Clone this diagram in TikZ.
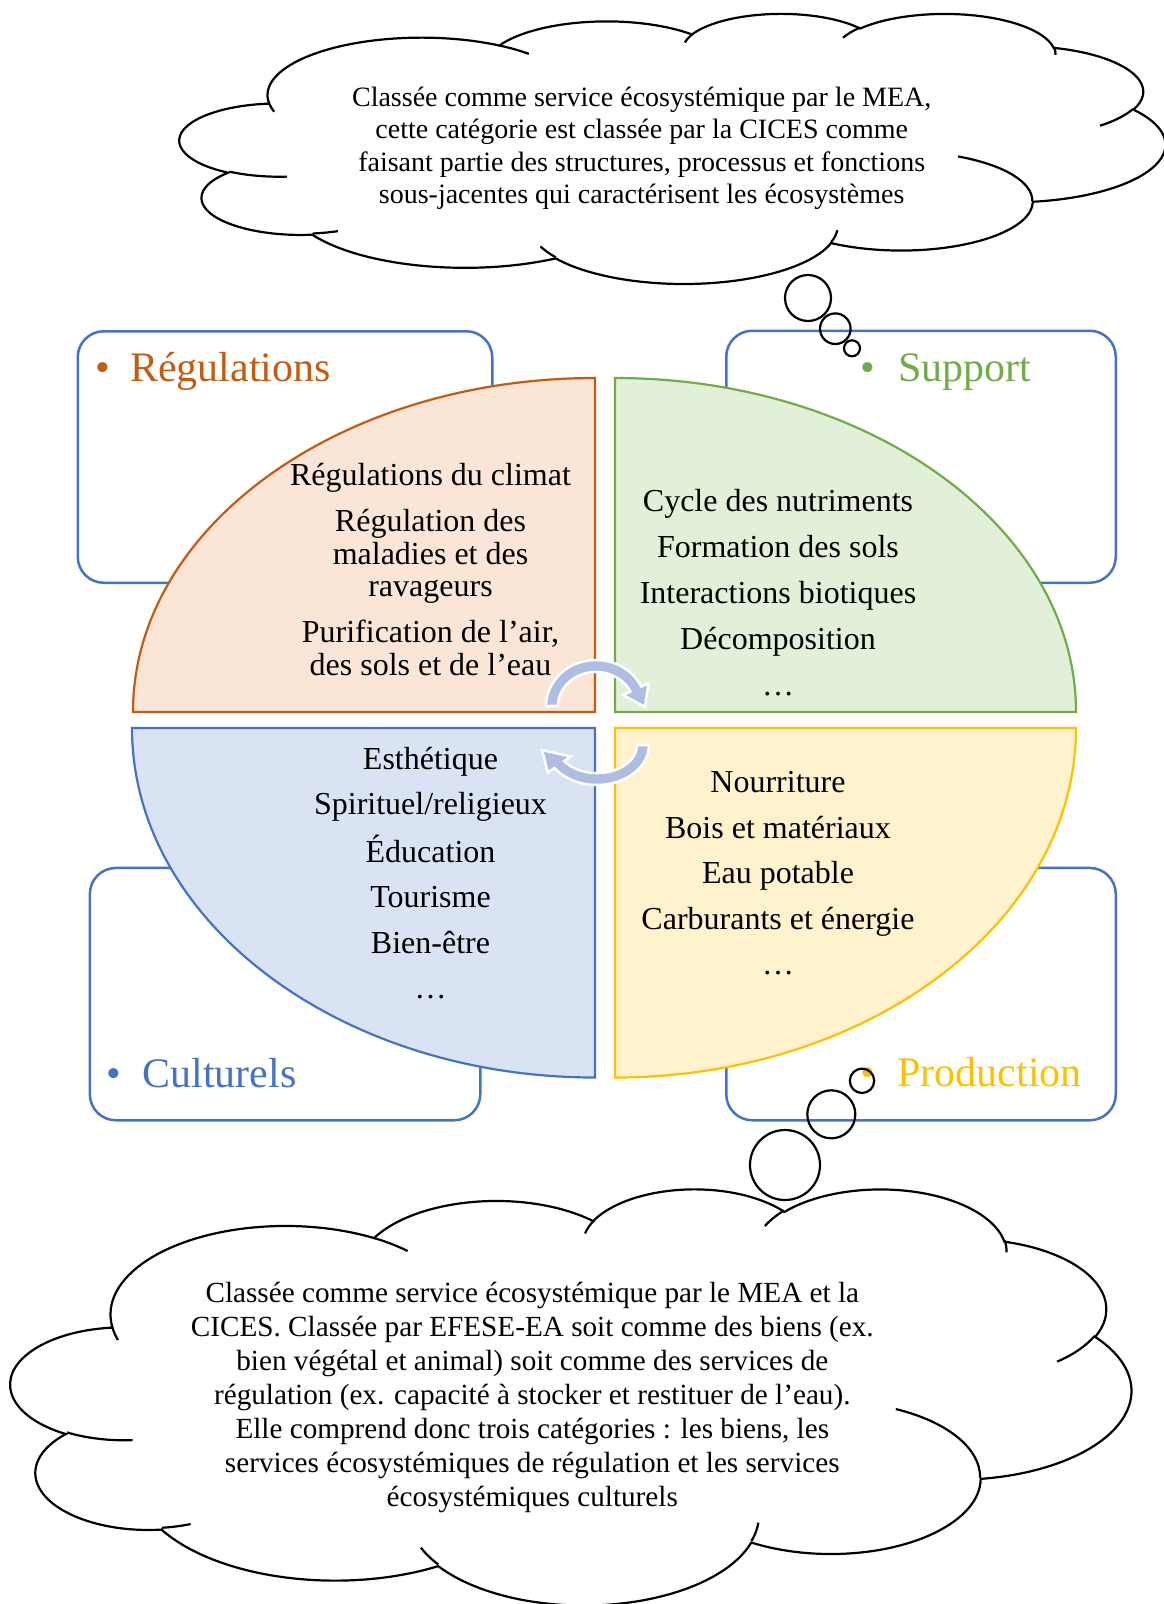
\documentclass[tikz,border=0pt]{standalone}
\usepackage{fontspec}
\setmainfont{Liberation Serif}
\usetikzlibrary{calc}

\definecolor{frameblue}{HTML}{4472C4}
\definecolor{regline}{HTML}{C55A11}
\definecolor{regfill}{HTML}{FBE5D6}
\definecolor{supline}{HTML}{70AD47}
\definecolor{supfill}{HTML}{E2F0D9}
\definecolor{culfill}{HTML}{DAE3F3}
\definecolor{proline}{HTML}{FFC000}
\definecolor{profill}{HTML}{FFF2CC}
\definecolor{cyclefill}{HTML}{AFBDE2}

\begin{document}
\begin{tikzpicture}[
        x=1pt, y=-1pt,
        varc/.style n args={4}{x radius=#1, y radius=#2,
            start angle={atan2(#1*sin(#3),#2*cos(#3))},
            delta angle={atan2(#1*sin(#3+#4),#2*cos(#3+#4))-atan2(#1*sin(#3),#2*cos(#3))+360*round((#4-atan2(#1*sin(#3+#4),#2*cos(#3+#4))+atan2(#1*sin(#3),#2*cos(#3)))/360)}},
        cloudshape/.pic={
            % outline
            \draw[line width=2.2pt, fill=white] (39.00,143.70)
                arc[varc={67.53}{91.90}{-190.487}{123.781}]
                arc[varc={53.33}{72.67}{-144.102}{89.945}]
                arc[varc={43.65}{59.45}{-145.808}{99.723}]
                arc[varc={48.57}{65.95}{-130.986}{117.242}]
                arc[varc={53.33}{72.73}{-78.709}{109.027}]
                arc[varc={67.75}{92.20}{-46.267}{130.269}]
                arc[varc={57.85}{78.67}{0.625}{114.033}]
                arc[varc={67.52}{92.15}{22.452}{115.173}]
                arc[varc={77.20}{105.43}{66.243}{75.711}]
                arc[varc={43.60}{59.18}{-274.942}{146.736}]
                arc[varc={43.45}{59.45}{-246.829}{152.519}]
                -- cycle;
            % folds
            \draw[line width=2.2pt]
                (46.93,261.77) arc[varc={43.45}{59.45}{86.742}{26.430}]
                (69.28,348.99) arc[varc={43.60}{59.18}{73.610}{11.447}]
                (164.78,390.90) arc[varc={67.52}{92.15}{137.624}{14.081}]
                (288.27,347.51) arc[varc={67.52}{92.15}{6.453}{15.998}]
                (341.29,229.54) arc[varc={57.85}{78.67}{-70.292}{70.917}]
                (417.98,153.54) arc[varc={53.33}{72.73}{30.318}{27.752}]
                (383.24,54.26) arc[varc={48.57}{65.95}{-13.744}{14.859}]
                (290.78,39.52) arc[varc={48.57}{65.95}{-149.181}{18.195}]
                (221.41,47.20) arc[varc={43.65}{59.45}{-163.494}{17.686}]
                (140.00,51.92) arc[varc={67.53}{91.90}{-66.707}{12.319}]
                (41.27,157.89) arc[varc={67.53}{91.90}{157.654}{11.858}];
        },
    ]
    \useasboundingbox (0,0) rectangle (1163,1604);
    % boxes behind the quarters
    \tikzstyle{catbox}=[draw=frameblue, line width=2.5pt, rounded corners=26pt, anchor=north west]
    \tikzstyle{cattitle}=[inner sep=0, anchor=base west, font=\fontsize{42}{46}\selectfont]
    \node[catbox, minimum width=414.5pt, minimum height=251.5pt] (RegBox) at (76.5,330) {};
    \node[catbox, minimum width=389.5pt, minimum height=252pt] (SupBox) at (725,329.5) {};
    \node[catbox, minimum width=390.4pt, minimum height=252.3pt] (CulBox) at (88.6,866.7) {};
    \node[catbox, minimum width=389.5pt, minimum height=252.3pt] (ProBox) at (725,866.7) {};
    % quarters
    \tikzstyle{quarter}=[line width=2.2pt]
    \coordinate (RegCorner) at (595,712);
    \coordinate (SupCorner) at (615,712);
    \coordinate (CulCorner) at (595,728);
    \coordinate (ProCorner) at (615,728);
    \draw[quarter, draw=regline, fill=regfill] (RegCorner) -- ++(0,-334)
        arc[start angle=270, end angle=180, x radius=462, y radius=334] -- cycle;
    \draw[quarter, draw=supline, fill=supfill] (SupCorner) -- ++(0,-334)
        arc[start angle=270, end angle=360, x radius=461, y radius=334] -- cycle;
    \draw[quarter, draw=frameblue, fill=culfill] (CulCorner) -- ++(0,349.5)
        arc[start angle=90, end angle=180, x radius=463, y radius=349.5] -- cycle;
    \draw[quarter, draw=proline, fill=profill] (ProCorner) -- ++(0,349.5)
        arc[start angle=90, end angle=0, x radius=461, y radius=349.5] -- cycle;
    % services in each quarter
    \tikzstyle{items}=[inner sep=0, align=center, font=\fontsize{32}{32.7}\selectfont]
    \node[items] (RegText) at (430.5,569.5) {Régulations du climat\\[13.3pt]
        Régulation des\\ maladies et des\\ ravageurs\\[13.3pt]
        Purification de l’air,\\ des sols et de l’eau};
    \node[items] (SupText) at (778,592.7) {Cycle des nutriments\\[13.3pt]
        Formation des sols\\[13.3pt] Interactions biotiques\\[13.3pt]
        Décomposition\\[13.3pt] …};
    \node[items] (CulText) at (430.5,873) {Esthétique\\[12.5pt] Spirituel/religieux\\[12.5pt]
        Éducation\\[12.5pt] Tourisme\\[12.5pt] Bien-être\\[12.5pt] …};
    \node[items] (ProText) at (778,873.2) {Nourriture\\[12.8pt] Bois et matériaux\\[12.8pt]
        Eau potable\\[12.8pt] Carburants et énergie\\[12.8pt] …};
    % cycle arrows
    \tikzstyle{cyclearrow}=[fill=cyclefill, draw=white, line width=2.5pt]
    \draw[cyclearrow] (546,706) arc[start angle=180, end angle=335, x radius=50, y radius=46]
        -- (648.6,683.2) -- (645,707) -- (623.2,695) -- (630.4,691.6)
        arc[start angle=335, end angle=180, x radius=38, y radius=34] -- cycle;
    \draw[cyclearrow] (649,745) arc[start angle=0, end angle=145, x radius=52, y radius=40]
        -- (547.8,772.5) -- (542,750) -- (570.8,756.5) -- (564.2,761.1)
        arc[start angle=145, end angle=0, x radius=40, y radius=28] -- cycle;
    % titles
    \node[cattitle, text=regline] (RegTitle) at ($(RegBox.north west)+(18.7,51)$) {•\hspace{20pt}Régulations};
    \node[cattitle, text=supline] (SupTitle) at ($(SupBox.north west)+(135.7,51.5)$) {•\hspace{22.5pt}Support};
    \node[cattitle, text=frameblue] (CulTitle) at ($(CulBox.south west)+(18.1,-34.3)$) {•\hspace{21pt}Culturels};
    \node[cattitle, text=proline] (ProTitle) at ($(ProBox.south west)+(135.7,-35)$) {•\hspace{22pt}Production};
    % clouds
    \begin{scope}[shift={(180,13)}, x=2.2801pt, y=-0.625pt]
        \pic (TopCloud) {cloudshape};
    \end{scope}
    \begin{scope}[shift={(11,1188)}, x=2.5926pt, y=-0.963pt]
        \pic (BottomCloud) {cloudshape};
    \end{scope}
    \tikzstyle{note}=[inner sep=0, align=center]
    \node[note, font=\fontsize{28}{32.3}\selectfont] (TopNote) at (641.7,148.3) {Classée comme service écosystémique par le MEA,\\
        cette catégorie est classée par la CICES comme\\
        faisant partie des structures, processus et fonctions\\
        sous-jacentes qui caractérisent les écosystèmes};
    \node[note, font=\fontsize{29.2}{33.9}\selectfont] (BottomNote) at (532.3,1397.5) {Classée comme service écosystémique par le MEA et la\\
        CICES. Classée par EFESE-EA soit comme des biens (ex.\\
        bien végétal et animal) soit comme des services de\\
        régulation (ex. capacité à stocker et restituer de l’eau).\\
        Elle comprend donc trois catégories : les biens, les\\
        services écosystémiques de régulation et les services\\
        écosystémiques culturels};
    % thought bubbles
    \tikzstyle{bubble}=[draw=black, line width=2.2pt]
    \draw[bubble] (808,298) circle[radius=23];
    \draw[bubble] (835.3,328.7) circle[radius=15.3];
    \draw[bubble] (852,348.3) circle[radius=8];
    \draw[bubble] (862,1080.8) circle[radius=12.2];
    \draw[bubble] (831.3,1114.3) circle[radius=24];
    \draw[bubble] (785,1165) circle[radius=35];
\end{tikzpicture}
\end{document}
